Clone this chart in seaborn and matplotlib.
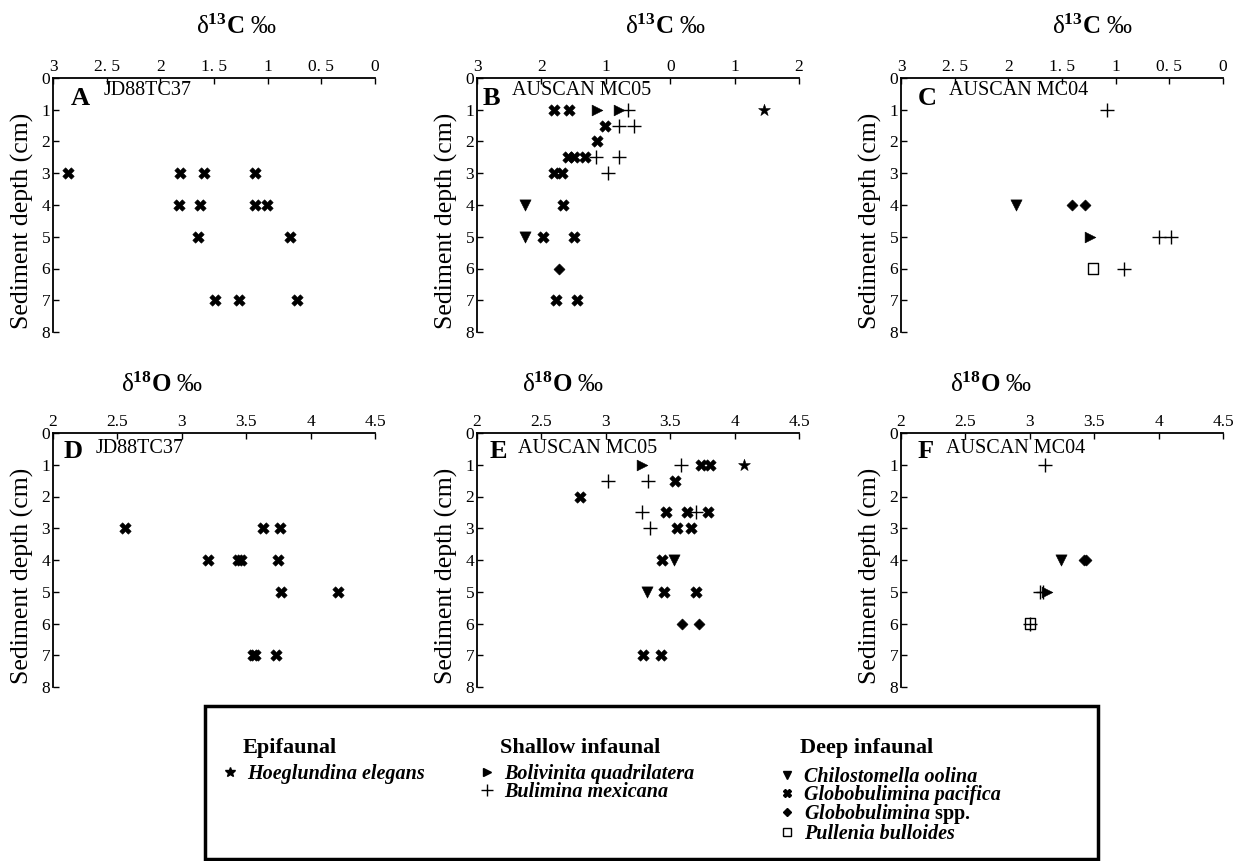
import numpy as np
import pandas as pd
import matplotlib
matplotlib.use("Agg")
import matplotlib.pyplot as plt
import seaborn as sns
from matplotlib.lines import Line2D
from matplotlib.patches import Rectangle
from matplotlib.font_manager import FontProperties

# ---------------- data ----------------
# delta13C values are negative (axis labels show magnitudes), depth in cm
# Panel A: JD88TC37, d13C
a_pac_depth = [3, 3, 3, 3, 4, 4, 4, 4, 5, 5, 7, 7, 7]
a_pac_val = [-2.86, -1.82, -1.59, -1.12, -1.83, -1.63, -1.12, -1.01, -1.65, -0.79, -1.49, -1.27, -0.73]

# Panel B: AUSCAN MC05, d13C
b_hoe_depth = [1]
b_hoe_val = [1.45]
b_bol_depth = [1, 1]
b_bol_val = [-1.13, -0.79]
b_bul_depth = [1, 1.5, 1.5, 2.5, 2.5, 3]
b_bul_val = [-0.65, -0.79, -0.56, -1.15, -0.79, -0.96]
b_chi_depth = [4, 5]
b_chi_val = [-2.25, -2.25]
b_pac_depth = [1, 1, 1.5, 2, 2.5, 2.5, 2.5, 3, 3, 4, 5, 5, 7, 7]
b_pac_val = [-1.81, -1.57, -1.01, -1.13, -1.58, -1.50, -1.33, -1.81, -1.68, -1.67, -1.97, -1.50, -1.78, -1.45]
b_spp_depth = [6]
b_spp_val = [-1.73]

# Panel C: AUSCAN MC04, d13C
c_bol_depth = [5]
c_bol_val = [-1.24]
c_bul_depth = [1, 5, 5, 6]
c_bul_val = [-1.08, -0.60, -0.48, -0.92]
c_chi_depth = [4]
c_chi_val = [-1.93]
c_spp_depth = [4, 4]
c_spp_val = [-1.41, -1.29]
c_pul_depth = [6]
c_pul_val = [-1.21]

# Panel D: JD88TC37, d18O
d_pac_depth = [3, 3, 3, 4, 4, 4, 4, 5, 5, 7, 7, 7]
d_pac_val = [2.56, 3.63, 3.76, 3.20, 3.44, 3.46, 3.75, 3.77, 4.21, 3.55, 3.57, 3.73]

# Panel E: AUSCAN MC05, d18O
e_hoe_depth = [1]
e_hoe_val = [4.07]
e_bol_depth = [1]
e_bol_val = [3.28]
e_bul_depth = [1, 1.5, 1.5, 2.5, 2.5, 3]
e_bul_val = [3.58, 3.02, 3.33, 3.28, 3.70, 3.34]
e_chi_depth = [4, 5]
e_chi_val = [3.53, 3.32]
e_pac_depth = [1, 1, 1.5, 2, 2.5, 2.5, 2.5, 3, 3, 4, 5, 5, 7, 7]
e_pac_val = [3.74, 3.81, 3.54, 2.80, 3.47, 3.63, 3.79, 3.55, 3.66, 3.44, 3.45, 3.70, 3.29, 3.43]
e_spp_depth = [6, 6]
e_spp_val = [3.59, 3.72]

# Panel F: AUSCAN MC04, d18O
f_bol_depth = [5]
f_bol_val = [3.13]
f_bul_depth = [1, 5, 5, 6]
f_bul_val = [3.12, 3.08, 3.10, 3.00]
f_chi_depth = [4]
f_chi_val = [3.24]
f_spp_depth = [4, 4]
f_spp_val = [3.42, 3.44]
f_pul_depth = [6]
f_pul_val = [3.00]

# tick labels
c13_ticks_ac = [-3, -2.5, -2, -1.5, -1, -0.5, 0]
c13_labels_ac = ["3", "2. 5", "2", "1. 5", "1", "0. 5", "0"]
c13_ticks_b = [-3, -2, -1, 0, 1, 2]
c13_labels_b = ["3", "2", "1", "0", "1", "2"]
o18_ticks = [2, 2.5, 3, 3.5, 4, 4.5]
o18_labels = ["2", "2.5", "3", "3.5", "4", "4.5"]
depth_ticks = [0, 1, 2, 3, 4, 5, 6, 7, 8]

# species / legend
species_names = {
    "hoe": "Hoeglundina elegans",
    "bol": "Bolivinita quadrilatera",
    "bul": "Bulimina mexicana",
    "chi": "Chilostomella oolina",
    "pac": "Globobulimina pacifica",
    "spp": r"$\mathit{Globobulimina}$ spp.",
    "pul": "Pullenia bulloides",
}

# ---------------- styling ----------------
sns.set_style("white")
plt.rcParams["font.family"] = ["Liberation Serif", "DejaVu Serif"]
plt.rcParams["mathtext.fontset"] = "custom"
plt.rcParams["mathtext.rm"] = "Liberation Serif"
plt.rcParams["mathtext.it"] = "Liberation Serif:italic:bold"
plt.rcParams["mathtext.bf"] = "Liberation Serif:bold"

STYLE = {
    "hoe": dict(marker="*", s=80, kind="filled", lms=7),
    "bol": dict(marker=">", s=60, kind="filled", lms=6),
    "bul": dict(marker="+", s=90, kind="line", lms=8),
    "chi": dict(marker="v", s=65, kind="filled", lms=6),
    "pac": dict(marker="X", s=68, kind="filled", lms=6),
    "spp": dict(marker="D", s=32, kind="filled", lms=4.5),
    "pul": dict(marker="s", s=55, kind="open", lms=6),
}

W, H = 1252, 861
fig = plt.figure(figsize=(W / 100, H / 100), dpi=100)


def plot_species(ax, depth, vals, key):
    st = STYLE[key]
    df = pd.DataFrame({"value": vals, "depth": depth})
    kw = dict(marker=st["marker"], s=st["s"], legend=False, zorder=3)
    if st["kind"] == "filled":
        kw.update(color="black", edgecolor="black", linewidth=0.4)
    elif st["kind"] == "line":
        kw.update(color="black", linewidth=1.0)
    else:
        kw.update(color="black", facecolor="none", edgecolor="black", linewidth=1.0)
    sns.scatterplot(data=df, x="value", y="depth", ax=ax, **kw)


def style_axis(ax, xlim, ticks, labels, title, tpos, letter, lpos, station, spos):
    ax.set_xlim(*xlim)
    ax.set_ylim(8, 0)
    ax.xaxis.tick_top()
    ax.set_xticks(ticks)
    ax.set_xticklabels(labels)
    ax.set_yticks(depth_ticks)
    ax.set_yticklabels([str(t) for t in depth_ticks])
    ax.tick_params(axis="both", direction="in", length=4, width=1.0,
                   labelsize=12.5, pad=2, colors="black")
    ax.tick_params(axis="x", top=True, bottom=False, labeltop=True, labelbottom=False)
    ax.tick_params(axis="y", left=True, right=False)
    for side in ["right", "bottom"]:
        ax.spines[side].set_visible(False)
    for side in ["top", "left"]:
        ax.spines[side].set_visible(True)
        ax.spines[side].set_linewidth(1.3)
        ax.spines[side].set_color("black")
    ax.grid(False)
    ax.set_xlabel("")
    ax.set_ylabel("Sediment depth (cm)", fontsize=18.5, color="black")
    ax.yaxis.label.set_verticalalignment("center")
    ax.yaxis.set_label_coords(-0.096, 0.437)
    ax.text(tpos[0], tpos[1], title, transform=ax.transAxes, ha="center",
            va="center", fontsize=18, color="black")
    ax.text(lpos[0], lpos[1], letter, transform=ax.transAxes, ha="left",
            va="center", fontsize=19, fontweight="bold", color="black")
    ax.text(spos[0], spos[1], station, transform=ax.transAxes, ha="left",
            va="center", fontsize=14.5, color="black")


c13_title = r"$\mathrm{\delta}^{\mathbf{13}}\mathbf{C}$ ‰"
o18_title = r"$\mathrm{\delta}^{\mathbf{18}}\mathbf{O}$ ‰"

lefts = [53 / W, 477 / W, 901 / W]
aw = 322 / W
ah = 254 / H
b_top = 1 - 332 / H
b_bot = 1 - 687 / H

axA = fig.add_axes([lefts[0], b_top, aw, ah])
axB = fig.add_axes([lefts[1], b_top, aw, ah])
axC = fig.add_axes([lefts[2], b_top, aw, ah])
axD = fig.add_axes([lefts[0], b_bot, aw, ah])
axE = fig.add_axes([lefts[1], b_bot, aw, ah])
axF = fig.add_axes([lefts[2], b_bot, aw, ah])

# A
plot_species(axA, a_pac_depth, a_pac_val, "pac")
style_axis(axA, (-3, 0), c13_ticks_ac, c13_labels_ac, c13_title, (0.571, 1.20),
           "A", (0.056, 0.921), "JD88TC37", (0.158, 0.950))
# B
plot_species(axB, b_hoe_depth, b_hoe_val, "hoe")
plot_species(axB, b_bol_depth, b_bol_val, "bol")
plot_species(axB, b_bul_depth, b_bul_val, "bul")
plot_species(axB, b_chi_depth, b_chi_val, "chi")
plot_species(axB, b_pac_depth, b_pac_val, "pac")
plot_species(axB, b_spp_depth, b_spp_val, "spp")
style_axis(axB, (-3, 2), c13_ticks_b, c13_labels_b, c13_title, (0.584, 1.20),
           "B", (0.019, 0.921), "AUSCAN MC05", (0.108, 0.950))
# C
plot_species(axC, c_bol_depth, c_bol_val, "bol")
plot_species(axC, c_bul_depth, c_bul_val, "bul")
plot_species(axC, c_chi_depth, c_chi_val, "chi")
plot_species(axC, c_spp_depth, c_spp_val, "spp")
plot_species(axC, c_pul_depth, c_pul_val, "pul")
style_axis(axC, (-3, 0), c13_ticks_ac, c13_labels_ac, c13_title, (0.593, 1.20),
           "C", (0.053, 0.921), "AUSCAN MC04", (0.148, 0.950))
# D
plot_species(axD, d_pac_depth, d_pac_val, "pac")
style_axis(axD, (2, 4.5), o18_ticks, o18_labels, o18_title, (0.34, 1.19),
           "D", (0.032, 0.926), "JD88TC37", (0.133, 0.940))
# E
plot_species(axE, e_hoe_depth, e_hoe_val, "hoe")
plot_species(axE, e_bol_depth, e_bol_val, "bol")
plot_species(axE, e_bul_depth, e_bul_val, "bul")
plot_species(axE, e_chi_depth, e_chi_val, "chi")
plot_species(axE, e_pac_depth, e_pac_val, "pac")
plot_species(axE, e_spp_depth, e_spp_val, "spp")
style_axis(axE, (2, 4.5), o18_ticks, o18_labels, o18_title, (0.267, 1.19),
           "E", (0.040, 0.926), "AUSCAN MC05", (0.127, 0.940))
# F
plot_species(axF, f_bol_depth, f_bol_val, "bol")
plot_species(axF, f_bul_depth, f_bul_val, "bul")
plot_species(axF, f_chi_depth, f_chi_val, "chi")
plot_species(axF, f_spp_depth, f_spp_val, "spp")
plot_species(axF, f_pul_depth, f_pul_val, "pul")
style_axis(axF, (2, 4.5), o18_ticks, o18_labels, o18_title, (0.28, 1.19),
           "F", (0.050, 0.926), "AUSCAN MC04", (0.139, 0.940))

# ---------------- legend ----------------
fig.add_artist(Rectangle((205 / W, 1 - 859 / H), (1098 - 205) / W, (859 - 706) / H,
                         transform=fig.transFigure, fill=False, lw=2.5,
                         edgecolor="black", zorder=5))

leg_prop = FontProperties(family="Liberation Serif", weight="bold", size=14.5)


def handle_for(key):
    st = STYLE[key]
    face = "none" if st["kind"] == "open" else "black"
    return Line2D([], [], linestyle="none", marker=st["marker"], markersize=st["lms"],
                  color="black", markerfacecolor=face, markeredgecolor="black",
                  markeredgewidth=1.0)


def make_legend(keys, x_px, y_px, header, hx, hy):
    handles = [handle_for(k) for k in keys]
    labels = [species_names[k] for k in keys]
    leg = fig.legend(handles, labels, loc="upper left",
                     bbox_to_anchor=(x_px / W, 1 - y_px / H), frameon=False,
                     prop=leg_prop, handlelength=0.8, handletextpad=0.45,
                     labelspacing=-0.12, borderpad=0, borderaxespad=0)
    for t in leg.get_texts():
        if "$" not in t.get_text():
            t.set_fontstyle("italic")
        t.set_color("black")
    fig.text(hx / W, 1 - hy / H, header, ha="left", va="center", fontsize=16,
             fontweight="bold", color="black")


make_legend(["hoe"], 222, 764, "Epifaunal", 243, 748)
make_legend(["bol", "bul"], 479, 764, "Shallow infaunal", 500, 748)
make_legend(["chi", "pac", "spp", "pul"], 779, 767, "Deep infaunal", 800, 748)

fig.savefig("out.png", dpi=100, facecolor="white")
